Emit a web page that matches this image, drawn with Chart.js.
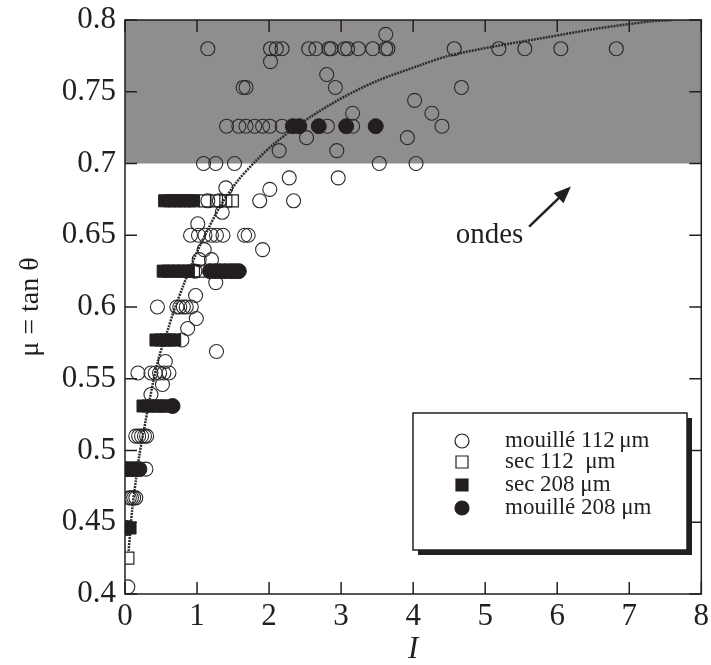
<!DOCTYPE html>
<html>
<head>
<meta charset="utf-8">
<script src="https://cdn.jsdelivr.net/npm/chart.js@4.4.1/dist/chart.umd.min.js"></script>
<style>
  html, body { margin: 0; padding: 0; background: #fff; }
  #wrap { width: 711px; height: 665px; }
</style>
</head>
<body>
<div id="wrap"><canvas id="chart" width="711" height="665"></canvas></div>
<script>
// mouillé 112 µm (open circles)
const wet112I = [1.15, 2.02, 2.10, 2.18, 2.55, 2.65, 2.83, 2.86, 3.05, 3.09, 3.24, 3.44, 3.62, 3.65,
  4.57, 5.19, 5.55, 6.05, 6.82, 3.62, 2.02, 2.80, 2.92, 1.64, 1.68, 4.67, 4.02, 3.16, 4.26,
  1.41, 1.58, 1.68, 1.80, 1.91, 2.01, 2.18, 2.81, 3.16, 4.40, 2.52, 3.92, 2.14, 2.94,
  1.09, 1.26, 1.52, 3.53, 4.04, 2.28, 2.96, 2.01, 1.40, 1.87, 2.34, 1.15, 1.31, 1.35, 1.01,
  0.91, 1.02, 1.11, 1.20, 1.27, 1.36, 1.66, 1.71, 1.91, 1.10, 1.03, 1.20, 0.97, 1.26, 0.98,
  0.45, 0.72, 0.76, 0.81, 0.85, 0.92, 0.99, 0.87, 0.79, 1.27, 0.56,
  0.18, 0.36, 0.42, 0.48, 0.54, 0.61, 0.52, 0.36, 0.15, 0.19, 0.23, 0.27, 0.30,
  0.29, 0.06, 0.09, 0.12, 0.15, 0.04];
const wet112Mu = [0.780, 0.780, 0.780, 0.780, 0.780, 0.780, 0.780, 0.780, 0.780, 0.780, 0.780, 0.780, 0.780, 0.780,
  0.780, 0.780, 0.780, 0.780, 0.780, 0.790, 0.771, 0.762, 0.753, 0.753, 0.753, 0.753, 0.744, 0.735, 0.735,
  0.726, 0.726, 0.726, 0.726, 0.726, 0.726, 0.726, 0.726, 0.726, 0.726, 0.718, 0.718, 0.709, 0.709,
  0.700, 0.700, 0.700, 0.700, 0.700, 0.690, 0.690, 0.682, 0.683, 0.674, 0.674, 0.674, 0.674, 0.666, 0.658,
  0.650, 0.650, 0.650, 0.650, 0.650, 0.650, 0.650, 0.650, 0.640, 0.640, 0.633, 0.633, 0.625, 0.617, 0.608,
  0.600, 0.600, 0.600, 0.600, 0.600, 0.600, 0.592, 0.585, 0.577, 0.569, 0.562,
  0.554, 0.554, 0.554, 0.554, 0.554, 0.554, 0.546, 0.539, 0.510, 0.510, 0.510, 0.510, 0.510,
  0.487, 0.467, 0.467, 0.467, 0.467, 0.405];

// sec 112 µm (open squares)
const dry112I = [0.04, 1.11, 1.27, 1.40, 1.49, 0.95, 1.03];
const dry112Mu = [0.425, 0.674, 0.674, 0.674, 0.674, 0.625, 0.625];

// sec 208 µm (filled squares)
const dry208I = [0.55, 0.62, 0.69, 0.76, 0.83, 0.90, 0.95,
  0.53, 0.60, 0.67, 0.74, 0.81, 0.88,
  0.43, 0.50, 0.57, 0.63, 0.69,
  0.25, 0.32, 0.39, 0.46, 0.53, 0.58,
  0.07];
const dry208Mu = [0.674, 0.674, 0.674, 0.674, 0.674, 0.674, 0.674,
  0.625, 0.625, 0.625, 0.625, 0.625, 0.625,
  0.577, 0.577, 0.577, 0.577, 0.577,
  0.531, 0.531, 0.531, 0.531, 0.531, 0.531,
  0.446];

// mouillé 208 µm (filled circles)
const wet208I = [2.33, 2.42, 2.69, 3.07, 3.48, 1.18, 1.25, 1.32, 1.39, 1.46, 1.52, 1.58, 0.66, 0.03, 0.09, 0.15, 0.20, 0.03];
const wet208Mu = [0.726, 0.726, 0.726, 0.726, 0.726, 0.625, 0.625, 0.625, 0.625, 0.625, 0.625, 0.625, 0.531, 0.487, 0.487, 0.487, 0.487, 0.446];

// fitted curve
const fitI = [0.05, 0.10, 0.15, 0.20, 0.28, 0.34, 0.46, 0.60, 0.67, 0.81, 0.97, 1.16, 1.32, 1.55, 1.82, 2.10, 2.56, 3.06, 3.52, 4.07, 4.49, 5.17, 5.86, 6.55, 7.29, 7.60];
const fitMu = [0.430, 0.459, 0.479, 0.497, 0.519, 0.535, 0.563, 0.585, 0.596, 0.615, 0.635, 0.655, 0.670, 0.687, 0.702, 0.715, 0.732, 0.747, 0.758, 0.768, 0.775, 0.782, 0.788, 0.794, 0.799, 0.800];

const seriesLabels = ['mouillé 112\u2009μm', 'sec 112  μm', 'sec 208 μm', 'mouillé 208 μm'];
const xTickValues = [0, 1, 2, 3, 4, 5, 6, 7, 8];
const yTickValues = [0.4, 0.45, 0.5, 0.55, 0.6, 0.65, 0.7, 0.75, 0.8];
const yTickLabels = ['0.4', '0.45', '0.5', '0.55', '0.6', '0.65', '0.7', '0.75', '0.8'];
const waveBand = [0.7, 0.8];
const waveText = 'ondes';

const SERIF = "'Liberation Serif', 'Times New Roman', serif";
const INK = '#231f20';

function pts(xs, ys) {
  return xs.map((x, i) => ({ x: x, y: ys[i] }));
}

// grey band for the wave regime
const bandPlugin = {
  id: 'band',
  beforeDatasetsDraw(chart) {
    const { ctx, scales: { x, y } } = chart;
    const top = y.getPixelForValue(waveBand[1]);
    const bot = y.getPixelForValue(waveBand[0]);
    ctx.save();
    ctx.fillStyle = '#8f8d8f';
    ctx.fillRect(x.left, top, x.right - x.left, bot - top);
    ctx.restore();
  }
};

// frame + inward ticks on all four sides, annotation, legend box
const framePlugin = {
  id: 'frame',
  afterDatasetsDraw(chart) {
    const { ctx, scales: { x, y } } = chart;
    const L = x.left, R = x.right, T = y.top, B = y.bottom;
    ctx.save();
    ctx.strokeStyle = INK;
    ctx.lineWidth = 1.5;
    ctx.strokeRect(L, T, R - L, B - T);
    ctx.beginPath();
    xTickValues.forEach(v => {
      const px = x.getPixelForValue(v);
      ctx.moveTo(px, B); ctx.lineTo(px, B - 12);
      ctx.moveTo(px, T); ctx.lineTo(px, T + 12);
    });
    yTickValues.forEach(v => {
      const py = y.getPixelForValue(v);
      ctx.moveTo(L, py); ctx.lineTo(L + 12, py);
      ctx.moveTo(R, py); ctx.lineTo(R - 12, py);
    });
    ctx.stroke();

    // "ondes" with arrow
    ctx.fillStyle = INK;
    ctx.font = '29px ' + SERIF;
    ctx.textAlign = 'center';
    ctx.textBaseline = 'middle';
    ctx.fillText(waveText, x.getPixelForValue(5.06), y.getPixelForValue(0.650));
    const ax = x.getPixelForValue(5.61), ay = y.getPixelForValue(0.656);
    const bx = x.getPixelForValue(6.19), by = y.getPixelForValue(0.684);
    const ang = Math.atan2(by - ay, bx - ax);
    ctx.lineWidth = 2.5;
    ctx.beginPath();
    ctx.moveTo(ax, ay);
    ctx.lineTo(bx - 10 * Math.cos(ang), by - 10 * Math.sin(ang));
    ctx.stroke();
    ctx.beginPath();
    ctx.moveTo(bx, by);
    ctx.lineTo(bx - 17 * Math.cos(ang) + 7 * Math.sin(ang), by - 17 * Math.sin(ang) - 7 * Math.cos(ang));
    ctx.lineTo(bx - 17 * Math.cos(ang) - 7 * Math.sin(ang), by - 17 * Math.sin(ang) + 7 * Math.cos(ang));
    ctx.closePath();
    ctx.fill();

    // legend box with shadow
    const bx0 = 413, by0 = 413, bw = 274, bh = 137;
    ctx.fillStyle = INK;
    ctx.fillRect(bx0 + 5, by0 + 5, bw, bh);
    ctx.fillStyle = '#fff';
    ctx.fillRect(bx0, by0, bw, bh);
    ctx.lineWidth = 1.5;
    ctx.strokeRect(bx0, by0, bw, bh);
    const rows = [441, 462, 485, 508];
    chart.data.datasets.slice(0, 4).forEach((ds, i) => {
      const my = rows[3 - i];
      const mx = 462;
      ctx.beginPath();
      ctx.lineWidth = 1.2;
      if (ds.pointStyle === 'rect') {
        ctx.rect(mx - 6, my - 6, 12, 12);
      } else {
        ctx.arc(mx, my, 7, 0, Math.PI * 2);
      }
      if (ds.backgroundColor !== 'transparent') { ctx.fillStyle = INK; ctx.fill(); }
      ctx.stroke();
      ctx.fillStyle = INK;
      ctx.font = '23px ' + SERIF;
      ctx.textAlign = 'left';
      ctx.fillText(ds.label, 505, my);
    });
    ctx.restore();
  }
};

const ctx = document.getElementById('chart').getContext('2d');
const chart = new Chart(ctx, {
  type: 'scatter',
  data: {
    datasets: [
      {
        label: seriesLabels[3],
        data: pts(wet208I, wet208Mu),
        pointStyle: 'circle',
        pointRadius: 7.5,
        backgroundColor: INK,
        borderColor: INK,
        borderWidth: 1
      },
      {
        label: seriesLabels[2],
        data: pts(dry208I, dry208Mu),
        pointStyle: 'rect',
        pointRadius: 8.5,
        backgroundColor: INK,
        borderColor: INK,
        borderWidth: 1
      },
      {
        label: seriesLabels[1],
        data: pts(dry112I, dry112Mu),
        pointStyle: 'rect',
        pointRadius: 8.5,
        backgroundColor: 'transparent',
        borderColor: INK,
        borderWidth: 1.2
      },
      {
        label: seriesLabels[0],
        data: pts(wet112I, wet112Mu),
        pointStyle: 'circle',
        pointRadius: 7,
        backgroundColor: 'transparent',
        borderColor: '#2b2829',
        borderWidth: 1.1
      },
      {
        label: 'fit',
        data: pts(fitI, fitMu),
        showLine: true,
        pointRadius: 0,
        borderColor: '#2e2b2c',
        borderWidth: 2.5,
        borderDash: [2, 1],
        tension: 0.3
      }
    ]
  },
  options: {
    responsive: false,
    animation: false,
    devicePixelRatio: 1,
    layout: { padding: { top: 20, right: 7, left: 0, bottom: 0 } },
    plugins: {
      legend: { display: false },
      tooltip: { enabled: false }
    },
    scales: {
      x: {
        type: 'linear',
        min: 0,
        max: 8,
        afterBuildTicks: s => { s.ticks = xTickValues.map(v => ({ value: v })); },
        afterFit: s => { s.height = 71; s.paddingLeft = 0; s.paddingRight = 0; },
        grid: { display: false, drawTicks: false },
        border: { display: false },
        ticks: { color: INK, font: { family: SERIF, size: 31 }, padding: 4, maxRotation: 0 },
        title: { display: true, text: 'I', color: INK, font: { family: SERIF, size: 31, style: 'italic' }, padding: { top: 0, bottom: -3 } }
      },
      y: {
        type: 'linear',
        min: 0.4,
        max: 0.8,
        afterBuildTicks: s => { s.ticks = yTickValues.map(v => ({ value: v })); },
        afterFit: s => { s.width = 125; s.paddingTop = 0; s.paddingBottom = 0; },
        grid: { display: false, drawTicks: false },
        border: { display: false },
        ticks: {
          color: INK,
          font: { family: SERIF, size: 31 },
          padding: 9,
          callback: (v, i) => yTickLabels[i]
        },
        title: { display: true, text: 'μ = tan θ', color: INK, font: { family: SERIF, size: 28 }, padding: { top: 14, bottom: 0 } }
      }
    }
  },
  plugins: [bandPlugin, framePlugin]
});
</script>
</body>
</html>
